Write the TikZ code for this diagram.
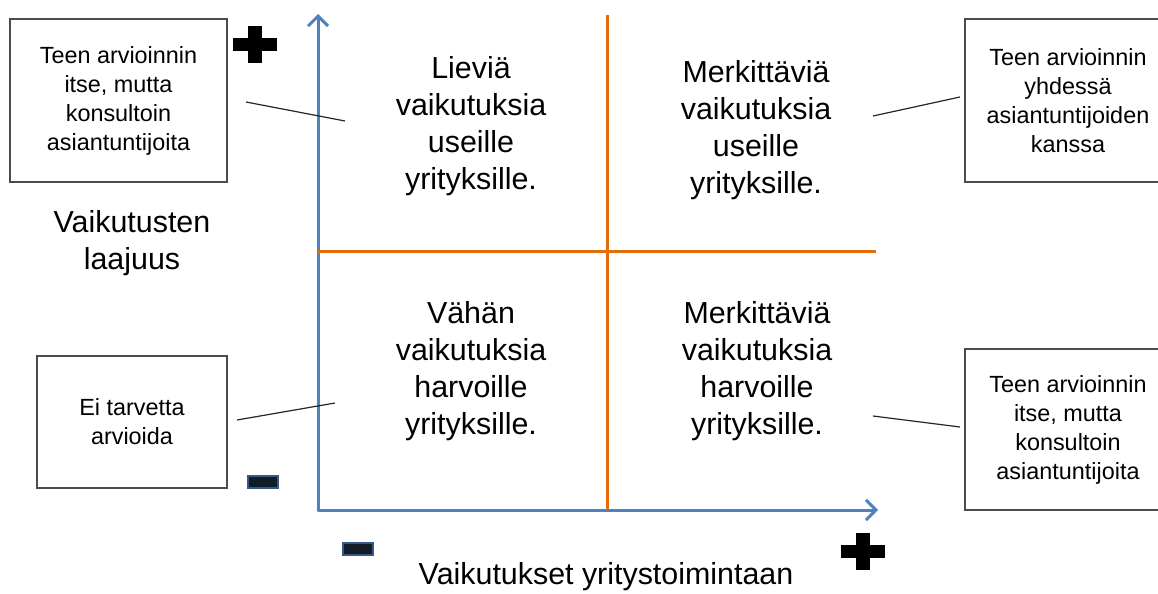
\documentclass[tikz,border=0pt]{standalone}
\usepackage{fontspec}
\setmainfont{Liberation Sans}
\usepackage{tikz}
\usetikzlibrary{positioning}
\usetikzlibrary{arrows.meta}

\definecolor{axisblue}{RGB}{79,129,189}
\definecolor{splitorange}{RGB}{228,108,10}
\definecolor{signdark}{RGB}{17,28,40}

\begin{document}
\begin{tikzpicture}[x=0.5pt, y=-0.5pt,
    axisline/.style={draw=axisblue, line width=1.5pt, line cap=round,
        -{Straight Barb[length=5pt, width=10pt, line width=1.5pt]}},
    splitline/.style={draw=splitorange, line width=1.5pt},
    quadtext/.style={align=center, inner sep=0pt,
        font=\fontsize{15.2pt}{18.5pt}\selectfont},
    advicebox/.style={draw=black!70, line width=0.8pt, align=center,
        inner sep=0pt, font=\fontsize{11.7pt}{14.5pt}\selectfont},
    pointer/.style={draw=black!85, line width=0.6pt}]

        \useasboundingbox (0,0) rectangle (1158,594);

        % axes
        \coordinate (origin) at (318,510);
        \coordinate (ytop) at (318,14);
        \coordinate (xend) at (878,510);
        \draw[axisline] (origin) -- (ytop);
        \draw[axisline] (origin) -- (xend);

        % quadrant borders
        \coordinate (vtop) at (607,15);
        \coordinate (vbot) at (607,510);
        \coordinate (hleft) at (318,251);
        \coordinate (hright) at (876,251);
        \draw[splitline] (vtop) -- (vbot);
        \draw[splitline] (hleft) -- (hright);

        \node[quadtext] (qTL) at (471,126)
        {Lieviä\\vaikutuksia\\useille\\yrityksille.};
        \node[quadtext] (qTR) at (756,130)
        {Merkittäviä\\vaikutuksia\\useille\\yrityksille.};
        \node[quadtext] (qBL) at (471,371)
        {Vähän\\vaikutuksia\\harvoille\\yrityksille.};
        \node[quadtext] (qBR) at (757,371)
        {Merkittäviä\\vaikutuksia\\harvoille\\yrityksille.};

        \node[quadtext] (ylabel) at (132,243)
        {Vaikutusten\\laajuus};
        \node[quadtext] (xlabel) at (606,577)
        {Vaikutukset yritystoimintaan};

        % advice boxes
        \node[advicebox, minimum width=108.5pt, minimum height=81.5pt]
        (bTL) at (118.5,100.5)
        {Teen arvioinnin\\itse, mutta\\konsultoin\\asiantuntijoita};
        \node[advicebox, minimum width=95pt, minimum height=66pt]
        (bBL) at (132,422)
        {Ei tarvetta\\arvioida};
        \node[advicebox, minimum width=103pt, minimum height=81.5pt]
        (bTR) at (1068,100.5)
        {Teen arvioinnin\\yhdessä\\asiantuntijoiden\\kanssa};
        \node[advicebox, minimum width=103pt, minimum height=80.5pt]
        (bBR) at (1068,429.5)
        {Teen arvioinnin\\itse, mutta\\konsultoin\\asiantuntijoita};

        \coordinate (pTLa) at (246,102);
        \coordinate (pTLb) at (345,121);
        \coordinate (pTRa) at (873,116);
        \coordinate (pTRb) at (960,97);
        \coordinate (pBLa) at (237,420);
        \coordinate (pBLb) at (335,403);
        \coordinate (pBRa) at (873,416);
        \coordinate (pBRb) at (960,427);
        \draw[pointer] (pTLa) -- (pTLb);
        \draw[pointer] (pTRa) -- (pTRb);
        \draw[pointer] (pBLa) -- (pBLb);
        \draw[pointer] (pBRa) -- (pBRb);

        % plus and minus signs
        \foreach \sx/\sy in {255/44, 863/551}
        {
            \fill[black] (\sx-22,\sy-6.5) rectangle (\sx+22,\sy+6.5);
            \fill[black] (\sx-7,\sy-18.5) rectangle (\sx+7,\sy+18.5);
        }
        \foreach \mx/\my in {263/482, 358/549}
        {
            \draw[fill=signdark, draw=axisblue!70!black, line width=0.6pt]
            (\mx-15,\my-6) rectangle (\mx+15,\my+6);
        }
\end{tikzpicture}
\end{document}
